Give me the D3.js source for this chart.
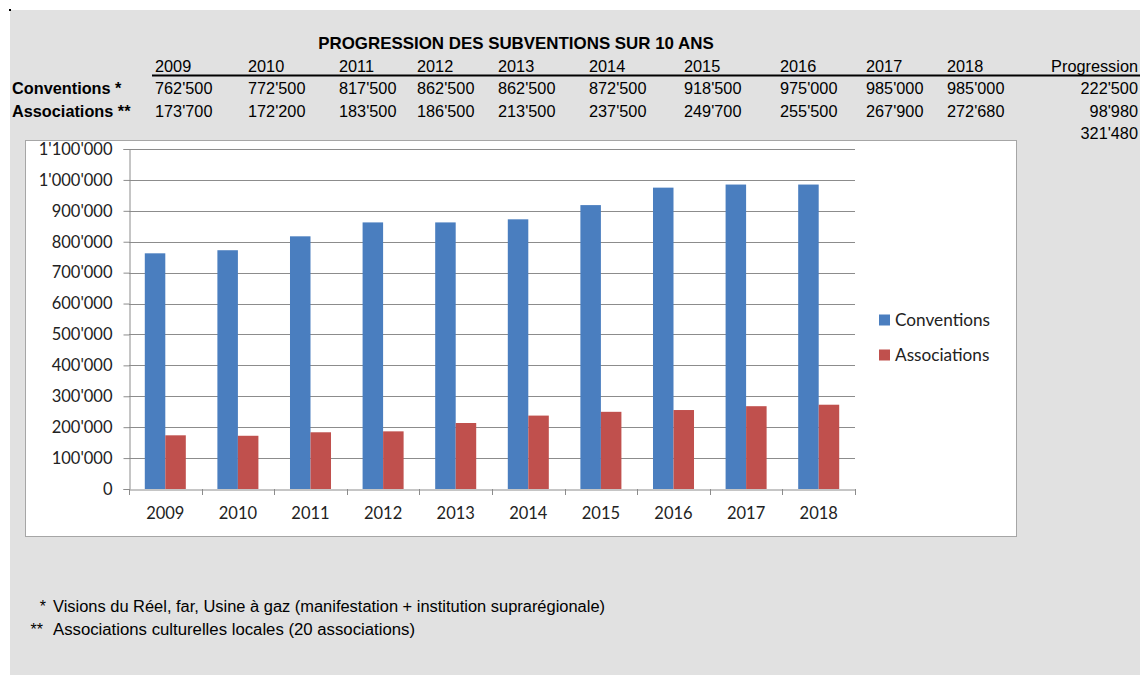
<!DOCTYPE html>
<html>
<head>
<meta charset="utf-8">
<script src="https://cdn.jsdelivr.net/npm/d3@7"></script>
<style>
  body { margin: 0; background: #fff; }
  svg { display: block; }
  .sheet { font-family: "Liberation Sans", Arial, sans-serif; fill: #000; }
  .chart text { font-family: Lato, "Open Sans", sans-serif; fill: #222; }
</style>
</head>
<body>
<svg id="chart" width="1140" height="675"></svg>
<script>
// --- data (read from the sheet) ---
const years = ["2009", "2010", "2011", "2012", "2013", "2014", "2015", "2016", "2017", "2018"];
const conventions = [762500, 772500, 817500, 862500, 862500, 872500, 918500, 975000, 985000, 985000];
const associations = [173700, 172200, 183500, 186500, 213500, 237500, 249700, 255500, 267900, 272680];
const progression = [222500, 98980, 321480];
const seriesNames = ["Conventions", "Associations"];
const rowLabels = ["Conventions *", "Associations **"];
const title = "PROGRESSION DES SUBVENTIONS SUR 10 ANS";
const footnotes = [
  ["*", "Visions du Réel, far, Usine à gaz (manifestation + institution suprarégionale)"],
  ["**", "Associations culturelles locales (20 associations)"]
];
const yTicks = [0, 100000, 200000, 300000, 400000, 500000, 600000, 700000, 800000, 900000, 1000000, 1100000];

// spreadsheet column lefts (uneven widths, as in the sheet)
const colX = [155, 248, 339, 417, 498, 589, 684, 780, 866, 947];

const locale = d3.formatLocale({ decimal: ".", thousands: "'", grouping: [3], currency: ["", ""] });
const fmt = locale.format(",d");

const colors = ["#4a7ebf", "#c0504d"];

const svg = d3.select("#chart");

// grey sheet background
svg.append("rect").attr("x", 10).attr("y", 10).attr("width", 1130).attr("height", 665).attr("fill", "#e1e1e1");
svg.append("rect").attr("x", 9).attr("y", 9).attr("width", 2).attr("height", 2).attr("fill", "#000");

// --- header table ---
const sheet = svg.append("g").attr("class", "sheet");

sheet.append("text")
  .attr("x", 516).attr("y", 49)
  .attr("text-anchor", "middle")
  .attr("font-weight", "bold").attr("font-size", 16.9)
  .text(title);

sheet.selectAll("text.year")
  .data(years)
  .join("text")
  .attr("class", "year")
  .attr("x", (d, i) => colX[i]).attr("y", 72)
  .attr("font-size", 16.3)
  .text(d => d);

sheet.append("text")
  .attr("x", 1138).attr("y", 72)
  .attr("text-anchor", "end").attr("font-size", 16.3)
  .text("Progression");

sheet.append("line")
  .attr("x1", 152).attr("x2", 1140)
  .attr("y1", 75.5).attr("y2", 75.5)
  .attr("stroke", "#000").attr("stroke-width", 2);

const rows = [conventions, associations];
rows.forEach((vals, r) => {
  const y = 94 + r * 22.5;
  sheet.append("text")
    .attr("x", 12).attr("y", y)
    .attr("font-weight", "bold").attr("font-size", 16.3)
    .text(rowLabels[r]);
  sheet.selectAll("text.v" + r)
    .data(vals)
    .join("text")
    .attr("class", "v" + r)
    .attr("x", (d, i) => colX[i]).attr("y", y)
    .attr("font-size", 16.3)
    .text(d => fmt(d));
});

sheet.selectAll("text.prog")
  .data(progression)
  .join("text")
  .attr("class", "prog")
  .attr("x", 1138).attr("y", (d, i) => 94 + i * 22.5)
  .attr("text-anchor", "end").attr("font-size", 16.3)
  .text(d => fmt(d));

// --- chart box ---
svg.append("rect")
  .attr("x", 25.5).attr("y", 140.5).attr("width", 991).attr("height", 396)
  .attr("fill", "#fff").attr("stroke", "#a6a6a6");

const chart = svg.append("g").attr("class", "chart");

const plot = { left: 129, right: 855, top: 149, bottom: 489 };

const y = d3.scaleLinear().domain([0, 1100000]).range([plot.bottom, plot.top]);
const x = d3.scaleBand().domain(years).range([plot.left, plot.right]).padding(0);
const xs = d3.scaleBand().domain(seriesNames).range([0, x.bandwidth()])
  .paddingInner(0).paddingOuter(0.77);

// gridlines
chart.append("g")
  .selectAll("line")
  .data(yTicks.filter(d => d > 0))
  .join("line")
  .attr("x1", plot.left).attr("x2", plot.right)
  .attr("y1", d => Math.round(y(d)) + 0.5).attr("y2", d => Math.round(y(d)) + 0.5)
  .attr("stroke", "#8c8c8c");

// y axis
const yAxis = chart.append("g")
  .attr("transform", `translate(${plot.left + 0.5},0)`)
  .call(d3.axisLeft(y).tickValues(yTicks).tickFormat(fmt).tickSize(6).tickPadding(11));
yAxis.selectAll("text").attr("font-size", 16.5).attr("font-family", "Lato, sans-serif").attr("fill", "#222");

// x axis: ticks at category boundaries
const xAxis = chart.append("g")
  .attr("transform", `translate(0,${plot.bottom + 0.5})`)
  .call(d3.axisBottom(x).tickSize(0).tickPadding(18));
xAxis.selectAll("text").attr("font-size", 16.5).attr("font-family", "Lato, sans-serif").attr("fill", "#222");
chart.append("g")
  .selectAll("line")
  .data(years.concat(["end"]))
  .join("line")
  .attr("x1", (d, i) => Math.round(i < years.length ? x(d) : plot.right) + 0.5)
  .attr("x2", (d, i) => Math.round(i < years.length ? x(d) : plot.right) + 0.5)
  .attr("y1", plot.bottom).attr("y2", plot.bottom + 6)
  .attr("stroke", "#8c8c8c");

[yAxis, xAxis].forEach(a => {
  a.select(".domain").attr("stroke", "#8c8c8c");
  a.selectAll(".tick line").attr("stroke", "#8c8c8c");
});

// bars
const groups = chart.append("g")
  .selectAll("g")
  .data(years)
  .join("g")
  .attr("transform", d => `translate(${x(d)},0)`);

groups.selectAll("rect")
  .data((d, i) => [conventions[i], associations[i]].map((v, k) => ({ key: seriesNames[k], v })))
  .join("rect")
  .attr("x", d => xs(d.key))
  .attr("width", xs.bandwidth())
  .attr("y", d => y(d.v))
  .attr("height", d => plot.bottom - y(d.v))
  .attr("fill", (d, k) => colors[k]);

// legend
const legend = chart.append("g");
seriesNames.forEach((name, k) => {
  const ly = 320 + k * 35;
  legend.append("rect")
    .attr("x", 879).attr("y", ly - 5.5).attr("width", 11).attr("height", 11)
    .attr("fill", colors[k]);
  legend.append("text")
    .attr("x", 895).attr("y", ly).attr("dy", "0.35em")
    .attr("font-size", 17.2)
    .text(name);
});

// footnotes
const notes = svg.append("g").attr("class", "sheet");
footnotes.forEach(([mark, txt], i) => {
  const fy = 612 + i * 23;
  notes.append("text")
    .attr("x", mark.length > 1 ? 43 : 46).attr("y", fy)
    .attr("text-anchor", "end").attr("font-size", 16)
    .text(mark);
  notes.append("text")
    .attr("x", 53).attr("y", fy)
    .attr("font-size", 16)
    .attr("textLength", i === 0 ? 552 : 362)
    .attr("lengthAdjust", "spacingAndGlyphs")
    .text(txt);
});
</script>
</body>
</html>
